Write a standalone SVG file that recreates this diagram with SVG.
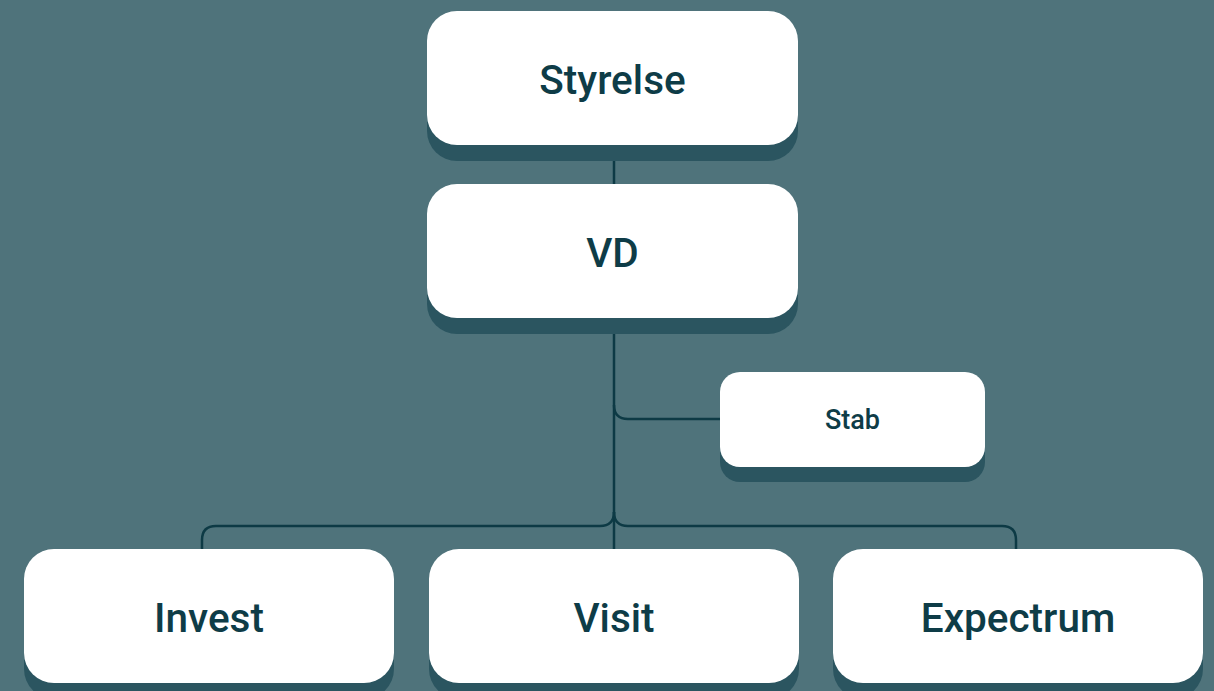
<svg xmlns="http://www.w3.org/2000/svg" width="1214" height="691" viewBox="0 0 1214 691">
<defs>
<style>
.bg{fill:#4f737b}
.box{fill:#ffffff}
.sh{fill:#2b5560}
.lbl{font-family:Roboto,"Liberation Sans",sans-serif;font-weight:500;fill:#0e3c47;text-anchor:middle;dominant-baseline:central}
.big{font-size:40.5px}
.small{font-size:27px}
.con{fill:none;stroke:#0d3a45;stroke-width:2.5}
</style>
</defs>
<rect class="bg" x="0" y="0" width="1214" height="691"/>
<g id="connectors">
<path class="con" d="M614 145 V184"/>
<path class="con" d="M614 318 V549"/>
<path class="con" d="M614 405 Q614 419 628 419 H720"/>
<path class="con" d="M614 512 Q614 526 600 526 H216 Q202 526 202 540 V549"/>
<path class="con" d="M614 512 Q614 526 628 526 H1002 Q1016 526 1016 540 V549"/>
</g>
<g id="styrelse">
<rect class="sh" x="427" y="27" width="371" height="134" rx="30"/>
<rect class="box" x="427" y="11" width="371" height="134" rx="30"/>
<text class="lbl big" x="612.5" y="79.5">Styrelse</text>
</g>
<g id="vd">
<rect class="sh" x="427" y="200" width="371" height="134" rx="30"/>
<rect class="box" x="427" y="184" width="371" height="134" rx="30"/>
<text class="lbl big" x="612.5" y="252.5">VD</text>
</g>
<g id="stab">
<rect class="sh" x="720" y="387" width="265" height="95" rx="20"/>
<rect class="box" x="720" y="372" width="265" height="95" rx="20"/>
<text class="lbl small" x="852.5" y="420">Stab</text>
</g>
<g id="invest">
<rect class="sh" x="24" y="565" width="370" height="134" rx="30"/>
<rect class="box" x="24" y="549" width="370" height="134" rx="30"/>
<text class="lbl big" x="209" y="617.5">Invest</text>
</g>
<g id="visit">
<rect class="sh" x="429" y="565" width="370" height="134" rx="30"/>
<rect class="box" x="429" y="549" width="370" height="134" rx="30"/>
<text class="lbl big" x="614" y="617.5">Visit</text>
</g>
<g id="expectrum">
<rect class="sh" x="833" y="565" width="370" height="134" rx="30"/>
<rect class="box" x="833" y="549" width="370" height="134" rx="30"/>
<text class="lbl big" x="1018" y="617.5">Expectrum</text>
</g>
</svg>
